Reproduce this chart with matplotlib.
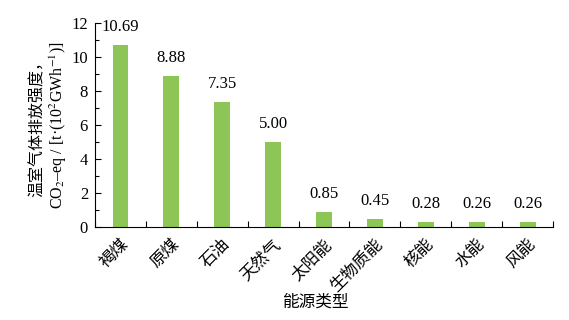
import matplotlib.pyplot as plt
from matplotlib.ticker import MultipleLocator, FixedLocator

plt.rcParams['font.family'] = ['Liberation Serif', 'Noto Sans CJK SC']
plt.rcParams['mathtext.fontset'] = 'stix'

# data
categories = ['褐煤', '原煤', '石油', '天然气', '太阳能', '生物质能', '核能', '水能', '风能']
values = [10.69, 8.88, 7.35, 5.00, 0.85, 0.45, 0.28, 0.26, 0.26]
value_labels = ['10.69', '8.88', '7.35', '5.00', '0.85', '0.45', '0.28', '0.26', '0.26']

fig = plt.figure(figsize=(5.69, 3.2), dpi=100)
ax = fig.add_axes([0.167, 0.291, 0.805, 0.638])

x = list(range(len(categories)))
ax.bar(x, values, width=0.31, color='#8dc657')
for xi, v, s in zip(x, values, value_labels):
    ax.text(xi, v + 0.6, s, ha='center', va='bottom', fontsize=12)

ax.set_xlim(-0.5, len(categories) - 0.5)
ax.set_ylim(0, 12)
ax.spines['top'].set_visible(False)
ax.spines['right'].set_visible(False)
ax.spines['left'].set_linewidth(0.8)
ax.spines['bottom'].set_linewidth(0.8)

ax.yaxis.set_major_locator(MultipleLocator(2))
ax.yaxis.set_minor_locator(MultipleLocator(1))
ax.tick_params(axis='y', which='major', direction='in', length=4, labelsize=12, width=0.8, pad=5)
ax.tick_params(axis='y', which='minor', direction='in', length=3, width=0.8)

ax.set_xticks(x)
ax.set_xticklabels(categories, rotation=45, ha='right', rotation_mode='anchor', fontsize=12)
ax.xaxis.set_minor_locator(FixedLocator([i - 0.5 for i in range(len(categories) + 1)]))
ax.tick_params(axis='x', which='major', length=0, pad=7)
ax.tick_params(axis='x', which='minor', direction='in', length=4, width=0.8)

ax.set_xlabel('能源类型', fontsize=12, labelpad=2)
ax.xaxis.set_label_coords(0.48, -0.33)
ax.set_ylabel('温室气体排放强度，\nCO$_2$–eq / [t·(10$^2$GWh$^{-1}$)]', fontsize=11.5,
              linespacing=1.1, labelpad=2)

fig.savefig('out.png', dpi=100)
